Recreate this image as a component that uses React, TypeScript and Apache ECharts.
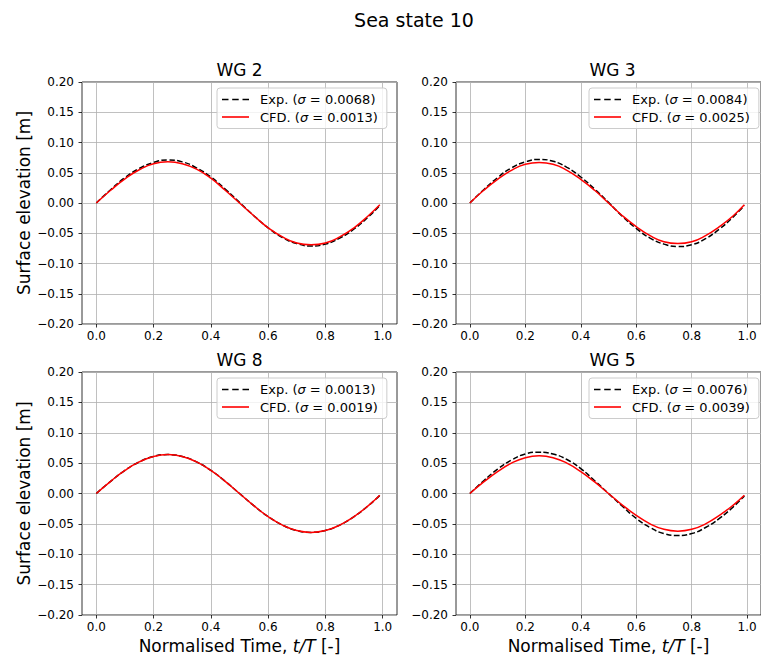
import React, { useEffect, useRef } from "react";
import * as echarts from "echarts";

const FONT = "DejaVu Sans";

// normalised time samples
const tValues = [0, 0.05, 0.1, 0.15, 0.2, 0.25, 0.3, 0.35, 0.4, 0.45, 0.5, 0.55, 0.6, 0.65, 0.7, 0.75, 0.8, 0.85, 0.9, 0.95, 0.99];

const xTicks = [0, 0.2, 0.4, 0.6, 0.8, 1.0];

const titles = ["WG 2", "WG 3", "WG 8", "WG 5"];
const expNames = ["Exp. (σ = 0.0068)", "Exp. (σ = 0.0084)", "Exp. (σ = 0.0013)", "Exp. (σ = 0.0076)"];
const cfdNames = ["CFD. (σ = 0.0013)", "CFD. (σ = 0.0025)", "CFD. (σ = 0.0019)", "CFD. (σ = 0.0039)"];

const wg2Exp = [0, 0.022, 0.042, 0.057, 0.067, 0.071, 0.068, 0.058, 0.043, 0.023, 0.001, -0.021, -0.041, -0.057, -0.067, -0.071, -0.068, -0.058, -0.043, -0.023, -0.004];
const wg2Cfd = [0, 0.021, 0.040, 0.055, 0.065, 0.068, 0.065, 0.056, 0.041, 0.021, 0.000, -0.021, -0.041, -0.056, -0.066, -0.069, -0.066, -0.056, -0.041, -0.021, -0.003];
const wg3Exp = [0, 0.022, 0.042, 0.058, 0.068, 0.072, 0.069, 0.059, 0.043, 0.023, 0.001, -0.022, -0.042, -0.058, -0.068, -0.072, -0.069, -0.059, -0.043, -0.023, -0.004];
const wg3Cfd = [0, 0.021, 0.039, 0.054, 0.064, 0.067, 0.064, 0.054, 0.039, 0.021, 0.000, -0.021, -0.039, -0.054, -0.064, -0.067, -0.064, -0.054, -0.039, -0.021, -0.003];
const wg8Exp = [0, 0.020, 0.038, 0.052, 0.061, 0.064, 0.061, 0.052, 0.038, 0.020, 0.000, -0.020, -0.038, -0.052, -0.061, -0.064, -0.061, -0.052, -0.038, -0.020, -0.003];
const wg8Cfd = [0, 0.020, 0.038, 0.052, 0.061, 0.064, 0.061, 0.052, 0.038, 0.020, 0.000, -0.020, -0.038, -0.052, -0.061, -0.064, -0.061, -0.052, -0.038, -0.020, -0.003];
const wg5Exp = [0, 0.021, 0.040, 0.055, 0.065, 0.068, 0.065, 0.056, 0.041, 0.021, 0.000, -0.021, -0.041, -0.056, -0.066, -0.069, -0.066, -0.056, -0.041, -0.022, -0.004];
const wg5Cfd = [0, 0.019, 0.036, 0.050, 0.059, 0.062, 0.059, 0.050, 0.036, 0.019, 0.000, -0.019, -0.036, -0.050, -0.059, -0.062, -0.059, -0.050, -0.036, -0.019, -0.003];

const expSeries = [wg2Exp, wg3Exp, wg8Exp, wg5Exp];
const cfdSeries = [wg2Cfd, wg3Cfd, wg8Cfd, wg5Cfd];

// layout (pixels)
const grids = [
  { left: 82, top: 82, width: 315, height: 242 },
  { left: 456, top: 82, width: 313, height: 242 },
  { left: 82, top: 372, width: 315, height: 243 },
  { left: 456, top: 372, width: 313, height: 243 },
];

const DASH_ICON = "path://M0,0h6.5v1.6h-6.5z M10.2,0h6.5v1.6h-6.5z M20.5,0h6.5v1.6h-6.5z";
const SOLID_ICON = "path://M0,0h27v1.6h-27z";

function fmtY(v: number) {
  if (Math.abs(v) < 1e-9) return "0.00";
  return (v < 0 ? "\u2212" : "") + Math.abs(v).toFixed(2);
}
function fmtX(v: number) {
  if (Math.abs(v) < 1e-9) return "0.0";
  return (v < 0 ? "\u2212" : "") + Math.abs(v).toFixed(1);
}

export default function App() {
  const ref = useRef<HTMLDivElement>(null);
  useEffect(() => {
    if (!ref.current) return;
    const chart = echarts.init(ref.current, null, { renderer: "svg" });
    const tickLine = { color: "#000", width: 0.8 };
    const gridLine = { color: "#b0b0b0", width: 0.8 };

    const xAxes = grids.map((g, i) => ({
      type: "value",
      gridIndex: i,
      min: -0.05,
      max: 1.05,
      axisLine: { show: false, onZero: false },
      axisTick: { show: true, inside: false, length: 3.5, lineStyle: tickLine, customValues: xTicks },
      axisLabel: {
        show: true,
        customValues: xTicks,
        margin: 6,
        fontSize: 12,
        fontFamily: FONT,
        color: "#000",
        formatter: (v: number) => fmtX(v),
      },
      splitLine: { show: true, lineStyle: gridLine },
      name: i >= 2 ? "Normalised Time, {i|t/T} [-]" : "",
      nameLocation: "middle",
      nameGap: 22,
      nameTextStyle: {
        fontSize: 17,
        fontFamily: FONT,
        color: "#000",
        verticalAlign: "top",
        rich: { i: { fontSize: 17, fontFamily: FONT, fontStyle: "italic", color: "#000" } },
      },
    }));

    const yAxes = grids.map((g, i) => ({
      type: "value",
      gridIndex: i,
      min: -0.2,
      max: 0.2,
      interval: 0.05,
      axisLine: { show: false, onZero: false },
      axisTick: { show: true, inside: false, length: 3.5, lineStyle: tickLine },
      axisLabel: {
        show: true,
        margin: 8,
        fontSize: 12,
        fontFamily: FONT,
        color: "#000",
        formatter: (v: number) => fmtY(v),
      },
      splitLine: { show: true, lineStyle: gridLine },
      name: i % 2 === 0 ? "Surface elevation [m]" : "",
      nameLocation: "middle",
      nameRotate: 90,
      nameGap: 50,
      nameTextStyle: { fontSize: 17, fontFamily: FONT, color: "#000" },
    }));

    const series: any[] = [];
    grids.forEach((g, i) => {
      series.push({
        name: expNames[i],
        type: "line",
        xAxisIndex: i,
        yAxisIndex: i,
        data: tValues.map((t, k) => [t, expSeries[i][k]]),
        symbol: "none",
        showSymbol: false,
        smooth: true,
        lineStyle: { color: "#000", width: 1.5, type: [5.5, 2.4] },
        itemStyle: { color: "#000" },
        z: 2,
      });
      series.push({
        name: cfdNames[i],
        type: "line",
        xAxisIndex: i,
        yAxisIndex: i,
        data: tValues.map((t, k) => [t, cfdSeries[i][k]]),
        symbol: "none",
        showSymbol: false,
        smooth: true,
        lineStyle: { color: "#ff0000", width: 1.5, type: "solid" },
        itemStyle: { color: "#ff0000" },
        z: 3,
      });
    });

    const legends = grids.map((g, i) => ({
      data: [
        { name: expNames[i], icon: DASH_ICON, itemStyle: { color: "#000" } },
        { name: cfdNames[i], icon: SOLID_ICON, itemStyle: { color: "#ff0000" } },
      ],
      orient: "vertical",
      left: g.left + g.width - 10 - 170,
      top: g.top + 6,
      width: 170,
      itemWidth: 27,
      itemHeight: 1.6,
      itemGap: 4.5,
      padding: [5, 9, 5, 5],
      backgroundColor: "rgba(255,255,255,0.8)",
      borderColor: "#cccccc",
      borderWidth: 1,
      borderRadius: 3,
      selectedMode: false,
      z: 10,
      formatter: (name: string) => "{g|}{n|" + name.replace("σ", "}{s|σ}{n|") + "}",
      textStyle: {
        fontSize: 13,
        fontFamily: FONT,
        color: "#000",
        rich: {
          g: { width: 6 },
          n: { fontSize: 13, fontFamily: FONT, color: "#000", lineHeight: 15 },
          s: { fontSize: 13, fontFamily: FONT, color: "#000", fontStyle: "italic", lineHeight: 15 },
        },
      },
    }));

    const graphic: any[] = [
      {
        type: "text",
        x: 414,
        y: 20,
        style: { text: "Sea state 10", fontSize: 19, fontFamily: FONT, fill: "#000", align: "center", verticalAlign: "middle" },
      },
      ...grids.map((g, i) => ({
        type: "text",
        x: g.left + g.width / 2,
        y: g.top - 12,
        style: { text: titles[i], fontSize: 17, fontFamily: FONT, fill: "#000", align: "center", verticalAlign: "middle" },
      })),
    ];

    chart.setOption({
      animation: false,
      backgroundColor: "#fff",
      grid: grids.map((g) => ({ ...g, show: true, borderColor: "#000", borderWidth: 0.8, backgroundColor: "transparent", containLabel: false })),
      xAxis: xAxes,
      yAxis: yAxes,
      series,
      legend: legends,
      graphic,
    });
    return () => chart.dispose();
  }, []);
  return <div ref={ref} style={{ position: "fixed", left: 0, top: 0, width: 761, height: 656 }} />;
}
